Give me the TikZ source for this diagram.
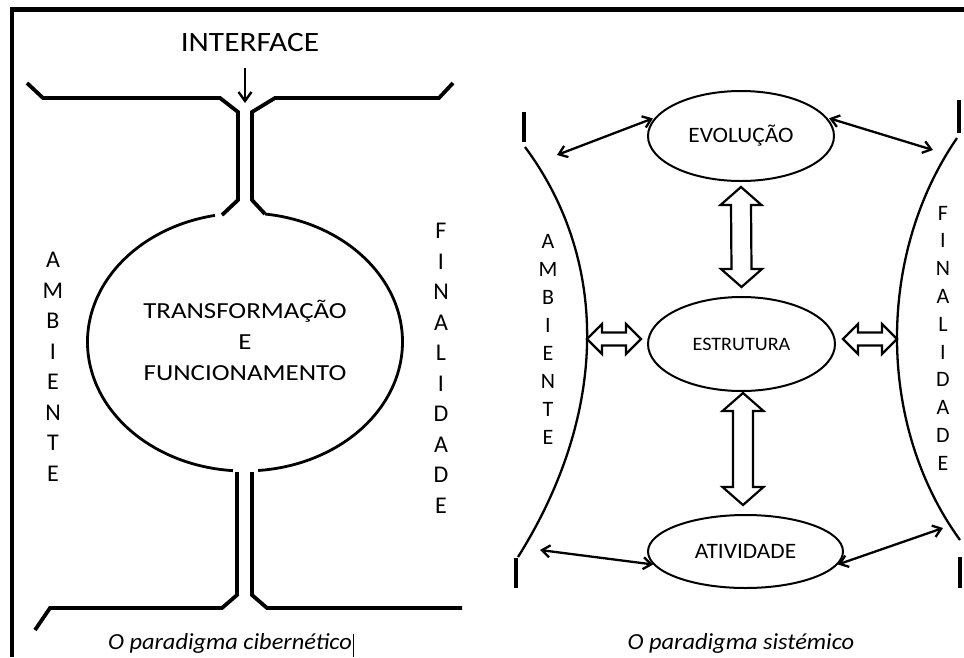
\documentclass[tikz,border=0pt]{standalone}
\usepackage{fontspec}
\setmainfont{Carlito}
\newfontfamily\capfont[FakeStretch=1.06]{Carlito}
\newfontfamily\tffont[FakeStretch=1.17]{Carlito}
\newfontfamily\iffont[FakeStretch=1.12]{Carlito}
\usetikzlibrary{arrows.meta,shapes.geometric,calc}

% hollow double arrows: vertical (top tip, bottom tip) and horizontal (left tip, right tip)
\newcommand\dblarrowV[2]{%
  \draw[hollow] (#1) -- ++(20.5,18) -- ++(-10.5,0) -- ([shift={(10,-18)}]#2)
    -- ++(10.5,0) -- (#2) -- ++(-20.5,-18) -- ++(10.5,0)
    -- ([shift={(-10,18)}]#1) -- ++(-10.5,0) -- cycle;}
\newcommand\dblarrowH[2]{%
  \draw[hollow] (#1) -- ++(15,-15) -- ++(0,8.5) -- ([shift={(-15,-6.5)}]#2)
    -- ++(0,-8.5) -- (#2) -- ++(-15,15) -- ++(0,-8.5)
    -- ([shift={(15,6.5)}]#1) -- ++(0,8.5) -- cycle;}

\begin{document}
\begin{tikzpicture}[x=1pt,y=-1pt,
  wall/.style={line width=3.8pt},
  bulb/.style={line width=2.8pt},
  side/.style={line width=2.3pt},
  tickbar/.style={line width=4pt},
  bub/.style={draw, ellipse, line width=2pt, inner sep=0pt},
  link/.style={line width=2.3pt, {Straight Barb[length=8pt,width=12pt]}-{Straight Barb[length=8pt,width=12pt]}},
  hollow/.style={draw, fill=white, line width=2.2pt, line join=miter},
  bigletter/.style={font=\fontsize{24}{24}\selectfont, inner sep=0pt},
  smallletter/.style={font=\fontsize{22}{22}\selectfont, inner sep=0pt},
  caption/.style={font=\capfont\itshape\fontsize{23}{23}\selectfont, inner sep=0pt}]
\useasboundingbox (0,0) rectangle (964,657);

% page frame
\draw[line width=5pt] (10,9.5) -- (964,9.5);
\draw[line width=4pt] (12,7) -- (12,657);

% ---------- cybernetic paradigm ----------
\node[font=\iffont\fontsize{28}{28}\selectfont, inner sep=0pt] (interface) at (250,43) {INTERFACE};
\coordinate (itop) at (245,68);
\coordinate (ibot) at (245,103);
\draw[line width=2.4pt, -{Straight Barb[length=9pt,width=13pt]}] (itop) -- (ibot);

% upper walls and neck
\draw[wall] (27,83) -- (43,98) -- (220,98) -- (238,112) -- (238,200) -- (222,215);
\draw[wall] (453,83) -- (439,98) -- (275,98) -- (252,112) -- (252,200) -- (265,214);
% the bulb
\draw[bulb] (214.95,215.4) arc[start angle=-101, end angle=-265.6, x radius=157.5, y radius=129];
\draw[bulb] (265,214) arc[start angle=-82.7, end angle=85.2, x radius=157.5, y radius=129];
% lower neck and walls
\draw[wall] (237,472) -- (237,595) -- (222,608) -- (50,608) -- (35,630);
\draw[wall] (252,472) -- (252,595) -- (267,608) -- (462,608);

\node[font=\tffont\fontsize{23}{31}\selectfont, align=center, inner sep=0pt] (tf) at (245,340)
  {TRANSFORMAÇÃO\\E\\FUNCIONAMENTO};

\foreach \l [count=\i from 0] in {A,M,B,I,E,N,T,E}
  \node[bigletter] (lamb\i) at (53,260+30.5*\i) {\l};
\foreach \l [count=\i from 0] in {F,I,N,A,L,I,D,A,D,E}
  \node[bigletter] (lfin\i) at (441,231+30.5*\i) {\l};

\node[caption] (capl) at (230,643) {O paradigma cibernético};
\draw[line width=1pt] (353,634) -- (353,657);

% ---------- systemic paradigm ----------
\node[bub, minimum width=186, minimum height=90,
      font=\capfont\fontsize{22}{22}\selectfont] (evo) at (741,136) {EVOLUÇÃO};
\node[bub, minimum width=187, minimum height=94,
      font=\capfont\fontsize{19}{19}\selectfont] (est) at (741.5,344) {ESTRUTURA};
\node[bub, minimum width=195, minimum height=73,
      font=\capfont\fontsize{22}{22}\selectfont] (ativ) at (745.5,551.5) {ATIVIDADE};

% environment and purpose boundaries
\draw[side] (525,147) .. controls (609,260) and (609,412) .. (518,557);
\draw[side] (957,138) .. controls (876.5,255) and (876.5,425) .. (960,540);
\draw[tickbar] (524,112) -- (524,142);
\draw[tickbar] (516,558) -- (516,588);
\draw[tickbar] (959,100) -- (959,133);
\draw[tickbar] (960,557) -- (960,588);

\foreach \l [count=\i from 0] in {A,M,B,I,E,N,T,E}
  \node[smallletter] (ramb\i) at (548,241+28*\i) {\l};
\foreach \l [count=\i from 0] in {F,I,N,A,L,I,D,A,D,E}
  \node[smallletter] (rfin\i) at (943,213+27.8*\i) {\l};

% thin two-way links
\coordinate (aw1) at (557,155);
\coordinate (fi1) at (933,150);
\coordinate (aw2) at (540,550);
\coordinate (fi2) at (943,528);
\draw[link, shorten >=2pt] (aw1) -- (evo.168);
\draw[link, shorten <=2pt] (evo.12) -- (fi1);
\draw[link] (aw2) -- (ativ.188);
\draw[link] (ativ.352) -- (fi2);

% hollow two-way arrows
\coordinate (v1t) at ($(evo.south)+(0,5)$);
\coordinate (v1b) at ($(est.north)+(0,-9)$);
\dblarrowV{v1t}{v1b}
\coordinate (v2t) at ($(est.south)+(1.5,1)$);
\coordinate (v2b) at ($(v2t |- ativ.north)+(0,-9)$);
\dblarrowV{v2t}{v2b}
\coordinate (awm) at (587,339);
\coordinate (h1r) at ($(awm -| est.west)+(-6,0)$);
\dblarrowH{awm}{h1r}
\coordinate (fim) at (897,339);
\coordinate (h2l) at ($(fim -| est.east)+(7,0)$);
\dblarrowH{h2l}{fim}

\node[caption] (capr) at (741,643) {O paradigma sistémico};
\end{tikzpicture}
\end{document}
